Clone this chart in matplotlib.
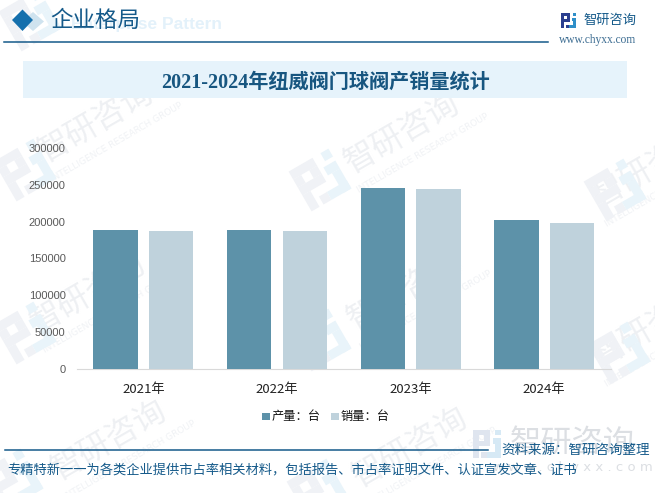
# -*- coding: utf-8 -*-
import matplotlib
matplotlib.use('Agg')
import numpy as np
import matplotlib.pyplot as plt
from matplotlib.patches import Rectangle, Polygon
from matplotlib.transforms import Affine2D

plt.rcParams['font.family'] = ['Noto Sans CJK SC', 'DejaVu Sans']

years = ['2021年', '2022年', '2023年', '2024年']
output_vals = [188700, 188700, 245700, 202300]
sales_vals = [187300, 187300, 244300, 198200]
yticks = [0, 50000, 100000, 150000, 200000, 250000, 300000]

W, H = 655, 493
BLUE = '#155a8a'
TITLE = '#175680'
serif = ['Liberation Serif', 'Noto Sans CJK SC']


def logo(ax, x, y, s, rot, c1, c2):
    # rough copy of the company mark, x,y = centre, s = size in px
    tr = Affine2D().translate(-5, -5).scale(s / 10.0).rotate_deg(rot).translate(x, y) + ax.transData
    pieces = [([0, 0], 6, 2, c1), ([0, 2], 2, 2, c1), ([0, 4], 6, 2, c1), ([4, 2], 2, 2, c1),
              ([0, 6], 2, 4, c1), ([3, 8], 2, 2, c1),
              ([7, 3], 3, 2, c2), ([8, 0], 2, 2, c2), ([8, 5], 2, 5, c2), ([5, 8], 5, 2, c2)]
    for xy, w, h, c in pieces:
        ax.add_patch(Rectangle(xy, w, h, fc=c, ec='none', transform=tr, zorder=1))


fig = plt.figure(figsize=(W / 100.0, H / 100.0), dpi=100)
bg = fig.add_axes([0, 0, 1, 1])
bg.set_xlim(0, W)
bg.set_ylim(H, 0)
bg.axis('off')

# watermarks
for x, y in [(96, 122), (402, 133), (650, 167), (88, 293), (405, 290), (650, 327), (109, 440), (410, 447)]:
    bg.text(x, y, '智研咨询', fontsize=23, color='#eef0f3', rotation=30, ha='center', va='center', zorder=1)
    bg.text(x + 21, y + 20, 'INTELLIGENCE RESEARCH GROUP', fontsize=6.5, color='#f0f2f5', rotation=30,
            ha='center', va='center', zorder=1, family='DejaVu Sans')
for x, y in [(25, 170), (320, 180), (615, 190), (25, 333), (320, 340), (619, 353), (12, 480), (318, 490), (30, 20)]:
    logo(bg, x, y, 46, -30, '#f0f2f6', '#e9f4fa')

# header
bg.text(222, 25, 'Enterprise Pattern', fontsize=12.5, fontweight='bold', color='#e3f1fa',
        ha='right', va='center', family='Liberation Sans', zorder=2)
bg.add_patch(Polygon([[22, 21.5], [33, 12], [44, 21.5], [33, 31]], fc='#cfe3ef', ec='none', zorder=3))
bg.add_patch(Polygon([[12, 20], [22.5, 9.5], [33, 20], [22.5, 31]], fc='#1570ad', ec='none', zorder=3))
bg.text(50, 21, '企业格局', fontsize=16.2, color=BLUE, va='center', family=serif, zorder=4)
bg.plot([4, 548], [41.5, 41.5], color=BLUE, lw=1.1, zorder=3)
logo(bg, 568.5, 20.5, 15, 0, '#2b3f8f', '#2f8fc8')
bg.text(583, 20.5, '智研咨询', fontsize=9.5, color=BLUE, va='center', zorder=4)
bg.text(598, 40, 'www.chyxx.com', fontsize=8.3, color='#3d6d92', ha='center', va='center', family=serif, zorder=4)

# title band
bg.add_patch(Rectangle((23, 61), 604, 37, fc='#e6f3fb', ec='none', zorder=2))
bg.text(325, 83, '2021-2024年纽威阀门球阀产销量统计', fontsize=14.5, fontweight='bold', color=TITLE,
        ha='center', va='center', family=serif, zorder=4)

# chart
ax = fig.add_axes([76.6 / W, 1 - 369.0 / H, 534.4 / W, 221.0 / H])
ax.patch.set_alpha(0)
pos = np.arange(len(years))
ax.bar(pos - 0.208, output_vals, 0.333, color='#5d92a9', zorder=3)
ax.bar(pos + 0.208, sales_vals, 0.333, color='#bfd2dc', zorder=3)
ax.set_xlim(-0.5, 3.5)
ax.set_ylim(0, 300000)
ax.set_xticks(pos)
ax.set_xticklabels(years, fontsize=9.5, color='#222222')
ax.set_yticks(yticks)
ax.set_yticklabels([str(v) for v in yticks], fontsize=8, color='#595959', family='Liberation Sans')
ax.tick_params(axis='both', length=0)
ax.tick_params(axis='x', pad=10)
ax.tick_params(axis='y', pad=8)
for s in ['top', 'right', 'left']:
    ax.spines[s].set_visible(False)
ax.spines['bottom'].set_color('#d9d9d9')

# legend
bg.add_patch(Rectangle((262, 413), 7.5, 7, fc='#5d92a9', ec='none', zorder=3))
bg.text(272, 416.5, '产量：台', fontsize=8.8, color='#111111', va='center', zorder=4)
bg.add_patch(Rectangle((331, 413), 7.5, 7, fc='#bfd2dc', ec='none', zorder=3))
bg.text(341, 416.5, '销量：台', fontsize=8.8, color='#111111', va='center', zorder=4)

# footer
logo(bg, 487, 443.5, 28, 0, '#dfe5ef', '#d6e9f5')
bg.text(510, 443, '智研咨询', fontsize=22.5, color='#dcdfe3', va='center', zorder=1)
bg.text(573, 467, 'w w w . c h y x x . c o m', fontsize=9.5, color='#dcdfe3', ha='center', va='center',
        family='DejaVu Sans', zorder=1)
bg.plot([5, 488], [449.5, 449.5], color=BLUE, lw=1.1, zorder=3)
bg.text(650, 450, '资料来源：智研咨询整理', fontsize=9.7, color=BLUE, ha='right', va='center', zorder=4)
bg.text(7, 470.5, '专精特新一一为各类企业提供市占率相关材料，包括报告、市占率证明文件、认证宣发文章、证书',
        fontsize=9.55, color=BLUE, va='center', zorder=4)

fig.savefig('out.png', dpi=100)
plt.close(fig)
